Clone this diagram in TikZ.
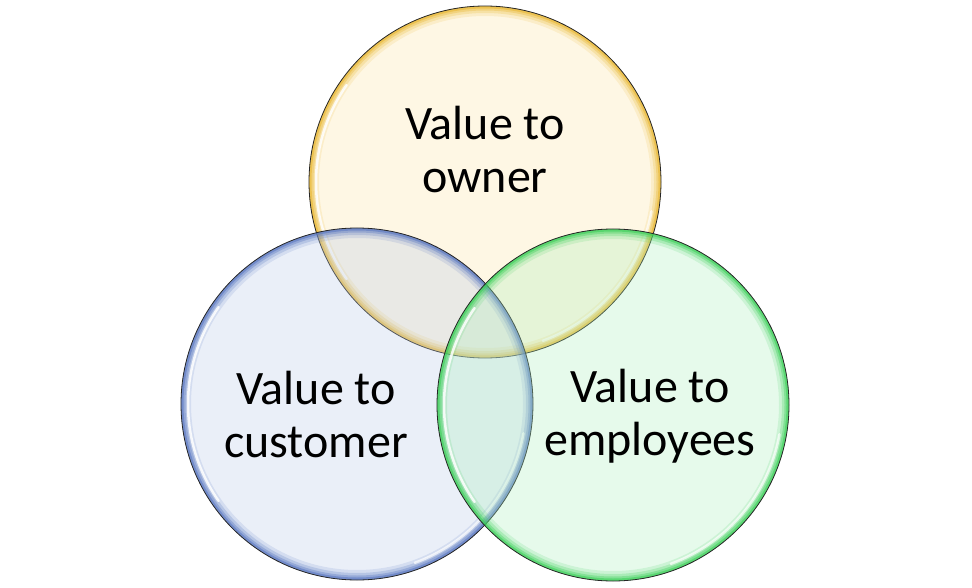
\documentclass[tikz,border=0pt]{standalone}
\usepackage{fontspec}
\setmainfont{Carlito}
\usepackage{tikz}
\usetikzlibrary{positioning}

\definecolor{ownerfill}{RGB}{253,228,165}
\definecolor{ownerrim}{RGB}{232,180,40}
\definecolor{custfill}{RGB}{185,202,232}
\definecolor{custrim}{RGB}{80,112,190}
\definecolor{empfill}{RGB}{172,238,188}
\definecolor{emprim}{RGB}{50,205,80}

\begin{document}
\begin{tikzpicture}[
x=1pt, y=-1pt,
bubble/.style={circle, draw=black!85, line width=0.8pt, minimum size=352pt, inner sep=0pt,
  fill=#1fill, fill opacity=0.3,
  path picture={
    \foreach \w/\o in {20/0.14, 14/0.22, 9/0.32, 5/0.5} {
      \draw[#1rim, line width=\w pt, draw opacity=\o] (path picture bounding box.center) circle (176pt);
    }
    \draw[white, line width=2.5pt, draw opacity=0.85, line cap=round]
      ([shift={(145:169pt)}]path picture bounding box.center) arc (145:215:169pt);
    \draw[white, line width=2.5pt, draw opacity=0.7, line cap=round]
      ([shift={(-70:169pt)}]path picture bounding box.center) arc (-70:-10:169pt);
  }},
lbl/.style={align=center, font=\fontsize{48}{53}\selectfont, text=black, inner sep=0pt}
]
\useasboundingbox (0,0) rectangle (972,588);
% the three circles
\node[bubble=owner] (owner) at (485,182) {};
\node[bubble=cust] (customer) at (357,404) {};
\node[bubble=emp] (employees) at (613,405) {};
% texts
\node[lbl] (ownertxt) at ([xshift=0pt, yshift=32pt]owner.center) {Value to\\owner};
\node[lbl] (customertxt) at ([xshift=-41pt, yshift=-11pt]customer.center) {Value to\\customer};
\node[lbl] (employeestxt) at ([xshift=37pt, yshift=-11pt]employees.center) {Value to\\employees};
\end{tikzpicture}
\end{document}
